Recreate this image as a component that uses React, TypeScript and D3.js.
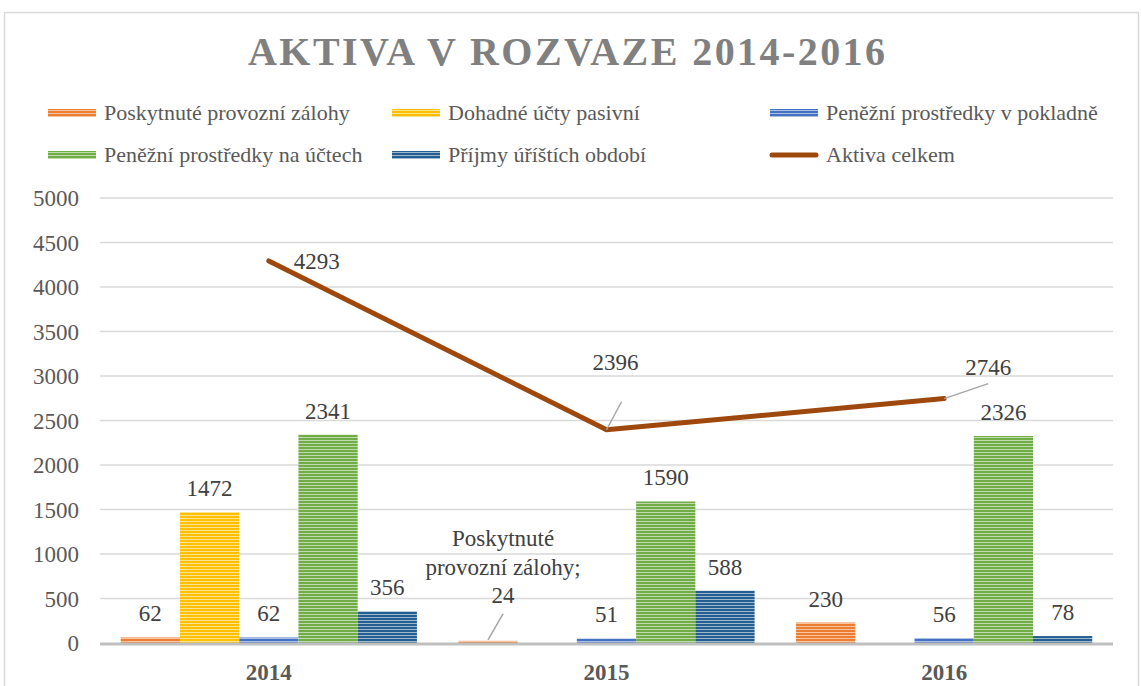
import React from "react";
import * as d3 from "d3";

const years = ["2014", "2015", "2016"];
const seriesNames = [
  "Poskytnuté provozní zálohy",
  "Dohadné účty pasivní",
  "Peněžní prostředky v pokladně",
  "Peněžní prostředky na účtech",
  "Příjmy úříštích období",
];
const zalohy = [62, 24, 230];
const dohadne = [1472, null, null];
const pokladna = [62, 51, 56];
const ucty = [2341, 1590, 2326];
const prijmy = [356, 588, 78];
const celkem = [4293, 2396, 2746];
const lineName = "Aktiva celkem";
const yTicks = [0, 500, 1000, 1500, 2000, 2500, 3000, 3500, 4000, 4500, 5000];

const colors = ["#ed7d31", "#ffc000", "#4472c4", "#70ad47", "#255e91"];
const lineColor = "#9e480e";
const serif = "Liberation Serif, Times New Roman, DejaVu Serif, serif";

export default function App() {
  const W = 1141, H = 686;
  const m = { left: 100, right: 1113, top: 198, bottom: 643 };
  const series = [zalohy, dohadne, pokladna, ucty, prijmy];

  const x0 = d3.scaleBand().domain(years).range([m.left, m.right]).paddingInner(0.7 / 5.7).paddingOuter(0.35 / 5.7);
  const x1 = d3.scaleBand().domain(d3.range(5).map(String)).range([0, x0.bandwidth()]);
  const y = d3.scaleLinear().domain([0, 5000]).range([m.bottom, m.top]);
  const cx = (yr) => (x0(yr) as number) + x0.bandwidth() / 2;

  const line = d3.line<number>().x((d, i) => cx(years[i])).y((d) => y(d));

  // label offsets for the line series (leader lines like in Excel)
  const lineLabels = [
    { dx: 48, dy: 8, leader: false },
    { dx: 9, dy: -60, leader: true, lx: 15, ly: -28 },
    { dx: 44, dy: -24, leader: true, lx: 44, ly: -15 },
  ];

  const lighten = (c) => d3.interpolateRgb(c, "#ffffff")(0.55);

  const legendItems = [
    { name: seriesNames[0], i: 0, x: 48, y: 113 },
    { name: seriesNames[1], i: 1, x: 392, y: 113 },
    { name: seriesNames[2], i: 2, x: 770, y: 113 },
    { name: seriesNames[3], i: 3, x: 48, y: 155 },
    { name: seriesNames[4], i: 4, x: 392, y: 155 },
    { name: lineName, i: -1, x: 770, y: 155 },
  ];

  const txt = { fontFamily: serif };

  return (
    <div style={{ position: "absolute", left: 0, top: 0 }}>
      <svg width={W} height={H} style={{ display: "block", background: "#fff", fontFamily: serif }}>
        <defs>
          {colors.map((c, i) => (
            <pattern key={i} id={"stripe" + i} width={6} height={3} patternUnits="userSpaceOnUse">
              <rect width={6} height={3} fill={c} />
              <rect y={2} width={6} height={1} fill={lighten(c)} />
            </pattern>
          ))}
        </defs>
        <rect x={4.5} y={12.5} width={1134} height={700} fill="#fff" stroke="#d9d9d9" strokeWidth={1.5} />

        <text x={566.5} y={65} textAnchor="middle" style={txt} fontWeight="bold" fontSize={40}
          fill="#808080" textLength={637} lengthAdjust="spacing">
          AKTIVA V ROZVAZE 2014-2016
        </text>

        {legendItems.map((it) => (
          <g key={it.name}>
            {it.i >= 0 ? (
              <rect x={it.x} y={it.y - 4} width={48} height={8} fill={`url(#stripe${it.i})`} />
            ) : (
              <line x1={it.x + 2} x2={it.x + 46} y1={it.y} y2={it.y} stroke={lineColor} strokeWidth={5} strokeLinecap="round" />
            )}
            <text x={it.x + 56} y={it.y + 7} style={txt} fontSize={22} fill="#595959">{it.name}</text>
          </g>
        ))}

        {yTicks.map((t) => (
          <g key={t}>
            {t > 0 && <line x1={m.left} x2={m.right} y1={y(t)} y2={y(t)} stroke="#d9d9d9" strokeWidth={1.5} />}
            <text x={79} y={y(t) + 8} textAnchor="end" style={txt} fontSize={23} fill="#595959">{t}</text>
          </g>
        ))}

        {series.map((vals, si) => (
          <g key={si}>
            {vals.map((v, yi) => {
              if (v == null) return null;
              const bx = (x0(years[yi]) as number) + (x1(String(si)) as number);
              return (
                <rect key={yi} x={bx} y={y(v)} width={x1.bandwidth()} height={y(0) - y(v)} fill={`url(#stripe${si})`} />
              );
            })}
          </g>
        ))}

        <line x1={m.left} x2={m.right} y1={y(0) + 1} y2={y(0) + 1} stroke="#bfbfbf" strokeWidth={3} />

        {series.map((vals, si) => (
          <g key={"l" + si}>
            {vals.map((v, yi) => {
              if (v == null) return null;
              const bx = (x0(years[yi]) as number) + (x1(String(si)) as number) + x1.bandwidth() / 2;
              if (si === 0 && yi === 1) {
                const lx = bx + 15;
                return (
                  <g key={yi}>
                    <line x1={bx} y1={y(v) - 1} x2={lx} y2={y(v) - 27} stroke="#a6a6a6" strokeWidth={1.5} />
                    <text x={lx} textAnchor="middle" style={txt} fontSize={23} fill="#404040">
                      <tspan x={lx} y={546}>Poskytnuté</tspan>
                      <tspan x={lx} y={575}>provozní zálohy;</tspan>
                      <tspan x={lx} y={603}>{v}</tspan>
                    </text>
                  </g>
                );
              }
              return (
                <text key={yi} x={bx} y={y(v) - 16} textAnchor="middle" style={txt} fontSize={23} fill="#404040">{v}</text>
              );
            })}
          </g>
        ))}

        <path d={line(celkem) as string} fill="none" stroke={lineColor} strokeWidth={5} strokeLinecap="round" strokeLinejoin="round" />

        {celkem.map((v, i) => {
          const px = cx(years[i]), py = y(v);
          const o = lineLabels[i];
          return (
            <g key={"c" + i}>
              {o.leader && <line x1={px} y1={py} x2={px + o.lx} y2={py + o.ly} stroke="#a6a6a6" strokeWidth={1.5} />}
              <text x={px + o.dx} y={py + o.dy} textAnchor="middle" style={txt} fontSize={23} fill="#404040">{v}</text>
            </g>
          );
        })}

        {years.map((yr) => (
          <text key={yr} x={cx(yr)} y={680} textAnchor="middle" style={txt} fontWeight="bold" fontSize={23} fill="#595959">{yr}</text>
        ))}
      </svg>
    </div>
  );
}
